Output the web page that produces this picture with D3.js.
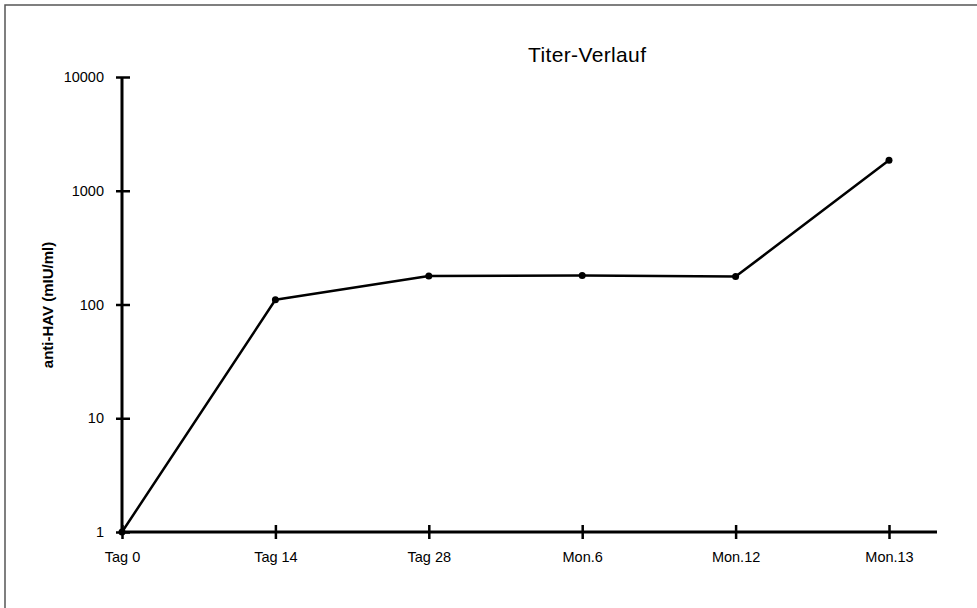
<!DOCTYPE html>
<html>
<head>
<meta charset="utf-8">
<script src="https://cdn.jsdelivr.net/npm/d3@7"></script>
<style>
  html, body { margin: 0; padding: 0; background: #fff; }
  svg { display: block; }
</style>
</head>
<body>
<svg id="chart" width="977" height="608"></svg>
<script>
/* ── Data ─────────────────────────────── */
const categories = ["Tag 0", "Tag 14", "Tag 28", "Mon.6", "Mon.12", "Mon.13"];
const titerValues = [1, 110, 178, 180, 176, 1850];
const yTicks = [1, 10, 100, 1000, 10000];

/* ── Layout ───────────────────────────── */
const svg = d3.select("#chart");
const plotLeft = 122, plotBottom = 532, plotTop = 77, lastX = 889, axisEnd = 937;
const labelFont = "Arial, 'Liberation Sans', sans-serif";

const x = d3.scalePoint().domain(categories).range([plotLeft, lastX]);
const y = d3.scaleLog().domain([1, 10000]).range([plotBottom, plotTop]);

// frame (only top + left edge visible in the scan)
svg.append("path")
    .attr("d", "M5,608 V5 H977")
    .attr("fill", "none")
    .attr("stroke", "#555")
    .attr("stroke-width", 1.5);

// title
svg.append("text")
    .attr("x", 587).attr("y", 62)
    .attr("text-anchor", "middle")
    .attr("font-family", "'Liberation Sans', Arial, sans-serif")
    .attr("font-size", 21)
    .attr("textLength", 118)
    .attr("fill", "#000")
    .text("Titer-Verlauf");

/* ── Y axis ───────────────────────────── */
const yAxis = svg.append("g")
    .attr("transform", `translate(${plotLeft},0)`)
    .call(d3.axisLeft(y).tickValues(yTicks).tickFormat(d3.format("d")).tickSize(6).tickPadding(12));
yAxis.select(".domain").remove();
yAxis.selectAll(".tick line")
    .attr("x1", -6).attr("x2", 8)
    .attr("stroke", "#000").attr("stroke-width", 2.5);
yAxis.selectAll(".tick text")
    .attr("font-family", labelFont)
    .attr("font-size", 14.5)
    .attr("fill", "#000");
svg.append("line")
    .attr("x1", plotLeft).attr("x2", plotLeft)
    .attr("y1", y(10000)).attr("y2", y(1))
    .attr("stroke", "#000").attr("stroke-width", 3);

svg.append("text")
    .attr("transform", "translate(53,305) rotate(-90)")
    .attr("text-anchor", "middle")
    .attr("font-family", labelFont)
    .attr("font-weight", "bold")
    .attr("font-size", 15)
    .attr("fill", "#000")
    .text("anti-HAV (mIU/ml)");

/* ── X axis ───────────────────────────── */
const xAxis = svg.append("g")
    .attr("transform", `translate(0,${plotBottom})`)
    .call(d3.axisBottom(x).tickSize(7).tickPadding(13));
xAxis.select(".domain").remove();
xAxis.selectAll(".tick line")
    .attr("y1", -7).attr("y2", 7)
    .attr("stroke", "#000").attr("stroke-width", 2.5);
xAxis.selectAll(".tick text")
    .attr("font-family", labelFont)
    .attr("font-size", 14.5)
    .attr("fill", "#000");
svg.append("line")
    .attr("x1", plotLeft).attr("x2", axisEnd)
    .attr("y1", plotBottom).attr("y2", plotBottom)
    .attr("stroke", "#000").attr("stroke-width", 3);

/* ── Series ───────────────────────────── */
const points = categories.map((c, i) => ({ c, v: titerValues[i] }));
const line = d3.line().x(d => x(d.c)).y(d => y(d.v));

svg.append("path")
    .datum(points)
    .attr("d", line)
    .attr("fill", "none")
    .attr("stroke", "#000")
    .attr("stroke-width", 2.5)
    .attr("stroke-linejoin", "round");

svg.append("g").selectAll("circle")
    .data(points).join("circle")
    .attr("cx", d => x(d.c))
    .attr("cy", d => y(d.v))
    .attr("r", 3.5)
    .attr("fill", "#000");
</script>
</body>
</html>
